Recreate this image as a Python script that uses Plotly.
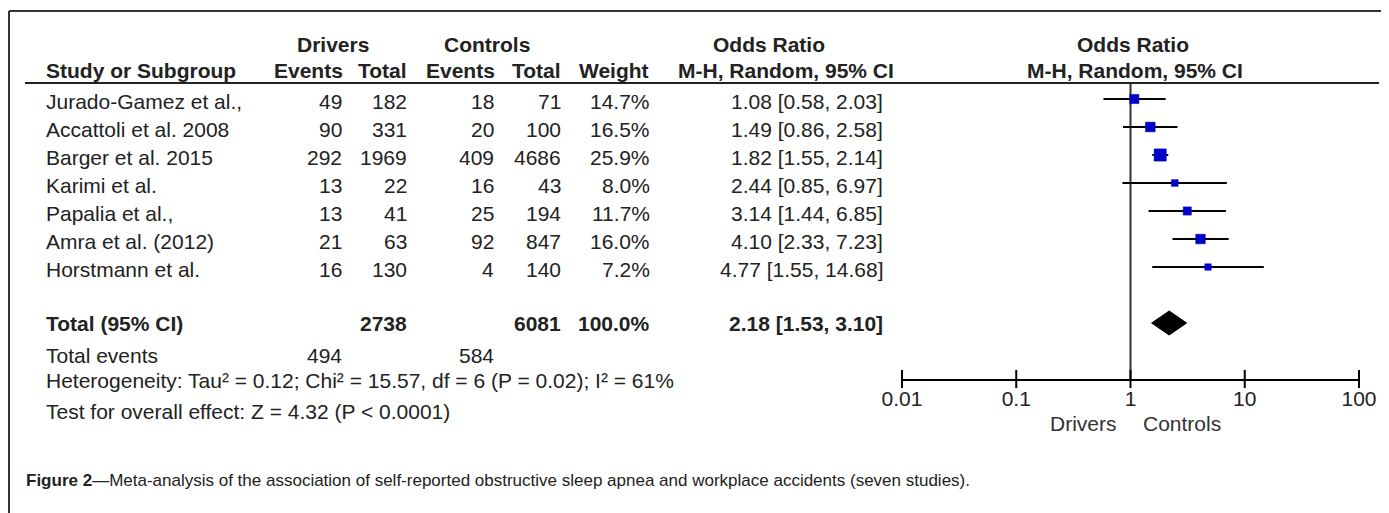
import math
import plotly.graph_objects as go

W, H = 1389, 513

# ---------------- data ----------------
studies = ["Jurado-Gamez et al.,", "Accattoli et al. 2008", "Barger et al. 2015",
           "Karimi et al.", "Papalia et al.,", "Amra et al. (2012)", "Horstmann et al."]
drivers_events = [49, 90, 292, 13, 13, 21, 16]
drivers_total = [182, 331, 1969, 22, 41, 63, 130]
controls_events = [18, 20, 409, 16, 25, 92, 4]
controls_total = [71, 100, 4686, 43, 194, 847, 140]
weights = [14.7, 16.5, 25.9, 8.0, 11.7, 16.0, 7.2]
or_est = [1.08, 1.49, 1.82, 2.44, 3.14, 4.10, 4.77]
or_lo = [0.58, 0.86, 1.55, 0.85, 1.44, 2.33, 1.55]
or_hi = [2.03, 2.58, 2.14, 6.97, 6.85, 7.23, 14.68]

total_label = "Total (95% CI)"
total_drivers = 2738
total_controls = 6081
total_weight = 100.0
total_est, total_lo, total_hi = 2.18, 1.53, 3.10
events_label = "Total events"
events_drivers = 494
events_controls = 584
heterogeneity = "Heterogeneity: Tau² = 0.12; Chi² = 15.57, df = 6 (P = 0.02); I² = 61%"
overall = "Test for overall effect: Z = 4.32 (P < 0.0001)"

tick_vals = [0.01, 0.1, 1, 10, 100]
tick_labels = ["0.01", "0.1", "1", "10", "100"]
null_value = 1
favours = ["Drivers", "Controls"]

header_groups = ["Drivers", "Controls", "Odds Ratio", "Odds Ratio"]
header_cols = ["Study or Subgroup", "Events", "Total", "Events", "Total", "Weight",
               "M-H, Random, 95% CI", "M-H, Random, 95% CI"]
caption_bold = "Figure 2"
caption_rest = "—Meta-analysis of the association of self-reported obstructive sleep apnea and workplace accidents (seven studies)."

# ---------------- layout constants (screen pixels) ----------------
OFF = 8                      # page body margin
ROW0_PX, ROW_PX = 99, 28     # screen y of first study row, row pitch
total_row = 8
axis_row = 10
FONT = "Liberation Sans, Arial, sans-serif"
TXT = "#222222"
FS = 21


def px(x):
    return (x - OFF) / W


def py(p):
    return 1 - (p - OFF) / H


def ci_text(e, l, h):
    return f"{e:.2f} [{l:.2f}, {h:.2f}]"


ann = []


def add(text, x, y, xanchor="right", yref="y", bold=False, size=FS, color=TXT, yshift=0):
    ann.append(dict(text=f"<b>{text}</b>" if bold else text, x=px(x), xref="paper",
                    y=y, yref=yref, xanchor=xanchor, yanchor="middle", showarrow=False,
                    font=dict(family=FONT, size=size, color=color), yshift=yshift))


# headers
HDR1, HDR2 = 44, 71
add(header_groups[0], 333, py(HDR1), "center", "paper", True)
add(header_groups[1], 487, py(HDR1), "center", "paper", True)
add(header_groups[2], 769, py(HDR1), "center", "paper", True)
add(header_groups[3], 1133, py(HDR1), "center", "paper", True)
add(header_cols[0], 44, py(HDR2), "left", "paper", True)
for txt, xr in zip(header_cols[1:6], [345, 409, 497, 563, 651]):
    add(txt, xr, py(HDR2), "right", "paper", True)
add(header_cols[6], 786, py(HDR2), "center", "paper", True)
add(header_cols[7], 1135, py(HDR2), "center", "paper", True)

# study rows
for i in range(len(studies)):
    add(studies[i], 44, i, "left", yshift=-2)
    add(str(drivers_events[i]), 344, i, yshift=-2)
    add(str(drivers_total[i]), 409, i, yshift=-2)
    add(str(controls_events[i]), 496, i, yshift=-2)
    add(str(controls_total[i]), 563, i, yshift=-2)
    add(f"{weights[i]:.1f}%", 652, i, yshift=-2)
    add(ci_text(or_est[i], or_lo[i], or_hi[i]), 885, i, yshift=-2)

# total row
add(total_label, 44, total_row, "left", bold=True)
add(str(total_drivers), 409, total_row, bold=True)
add(str(total_controls), 563, total_row, bold=True)
add(f"{total_weight:.1f}%", 652, total_row, bold=True)
add(ci_text(total_est, total_lo, total_hi), 885, total_row, bold=True)

add(events_label, 44, py(355), "left", "paper")
add(str(events_drivers), 344, py(355), "right", "paper")
add(str(events_controls), 496, py(355), "right", "paper")
add(heterogeneity, 44, py(380), "left", "paper")
add(overall, 44, py(411), "left", "paper")

add(favours[0], 1119, py(423), "right", "paper", color="#333333")
add(favours[1], 1141, py(423), "left", "paper", color="#333333")

ann.append(dict(text=f"<b>{caption_bold}</b>{caption_rest}", x=px(24), xref="paper",
                y=py(480), yref="paper", xanchor="left", yanchor="middle", showarrow=False,
                font=dict(family=FONT, size=17, color=TXT)))

# ---------------- traces ----------------
fig = go.Figure()
header_row = (83 - ROW0_PX) / ROW_PX

fig.add_trace(go.Scatter(x=[null_value, null_value], y=[header_row, axis_row], mode="lines",
                         line=dict(color="#333333", width=2), hoverinfo="skip"))

wx, wy = [], []
for i in range(len(studies)):
    wx += [or_lo[i], or_hi[i], None]
    wy += [i, i, None]
fig.add_trace(go.Scatter(x=wx, y=wy, mode="lines", line=dict(color="black", width=2),
                         hoverinfo="skip"))

fig.add_trace(go.Scatter(x=or_est, y=list(range(len(studies))), mode="markers",
                         marker=dict(symbol="square", color="#0000C8", opacity=1,
                                     size=[2.4 * math.sqrt(w) for w in weights],
                                     line=dict(width=0.5, color="#0000C8")),
                         hoverinfo="skip"))

h = 12 / ROW_PX
fig.add_trace(go.Scatter(x=[total_lo, total_est, total_hi, total_est, total_lo],
                         y=[total_row, total_row - h, total_row, total_row + h, total_row],
                         mode="lines", fill="toself", fillcolor="black",
                         line=dict(color="black", width=1), hoverinfo="skip"))

fig.add_trace(go.Scatter(x=tick_vals, y=[axis_row] * len(tick_vals), mode="markers",
                         marker=dict(symbol="line-ns", size=13, line=dict(color="black", width=2)),
                         hoverinfo="skip", cliponaxis=False))

shapes = [
    dict(type="line", xref="paper", yref="paper", x0=px(9), x1=1, y0=py(11), y1=py(11),
         line=dict(color="#333333", width=2)),
    dict(type="line", xref="paper", yref="paper", x0=px(9), x1=px(9), y0=py(11), y1=0,
         line=dict(color="#333333", width=2)),
    dict(type="line", xref="paper", yref="paper", x0=px(25), x1=px(1379), y0=py(83), y1=py(83),
         line=dict(color="#222222", width=2)),
]

axis_px = ROW0_PX + axis_row * ROW_PX - OFF
ytop = -(ROW0_PX - OFF) / ROW_PX
fig.update_layout(
    width=W, height=H, margin=dict(l=0, r=0, t=0, b=0, autoexpand=False),
    paper_bgcolor="white", plot_bgcolor="rgba(0,0,0,0)",
    showlegend=False, annotations=ann, shapes=shapes,
    xaxis=dict(type="log", range=[-2, 2], domain=[px(902), px(1359)], automargin=False,
               tickvals=tick_vals, ticktext=tick_labels, showgrid=False, zeroline=False,
               showline=True, linecolor="black", linewidth=2, ticks="",
               tickfont=dict(family=FONT, size=FS, color=TXT), fixedrange=True),
    yaxis=dict(range=[axis_row, ytop], domain=[1 - axis_px / H, 1], automargin=False,
               visible=False, fixedrange=True),
)

fig.write_html("out.html")
